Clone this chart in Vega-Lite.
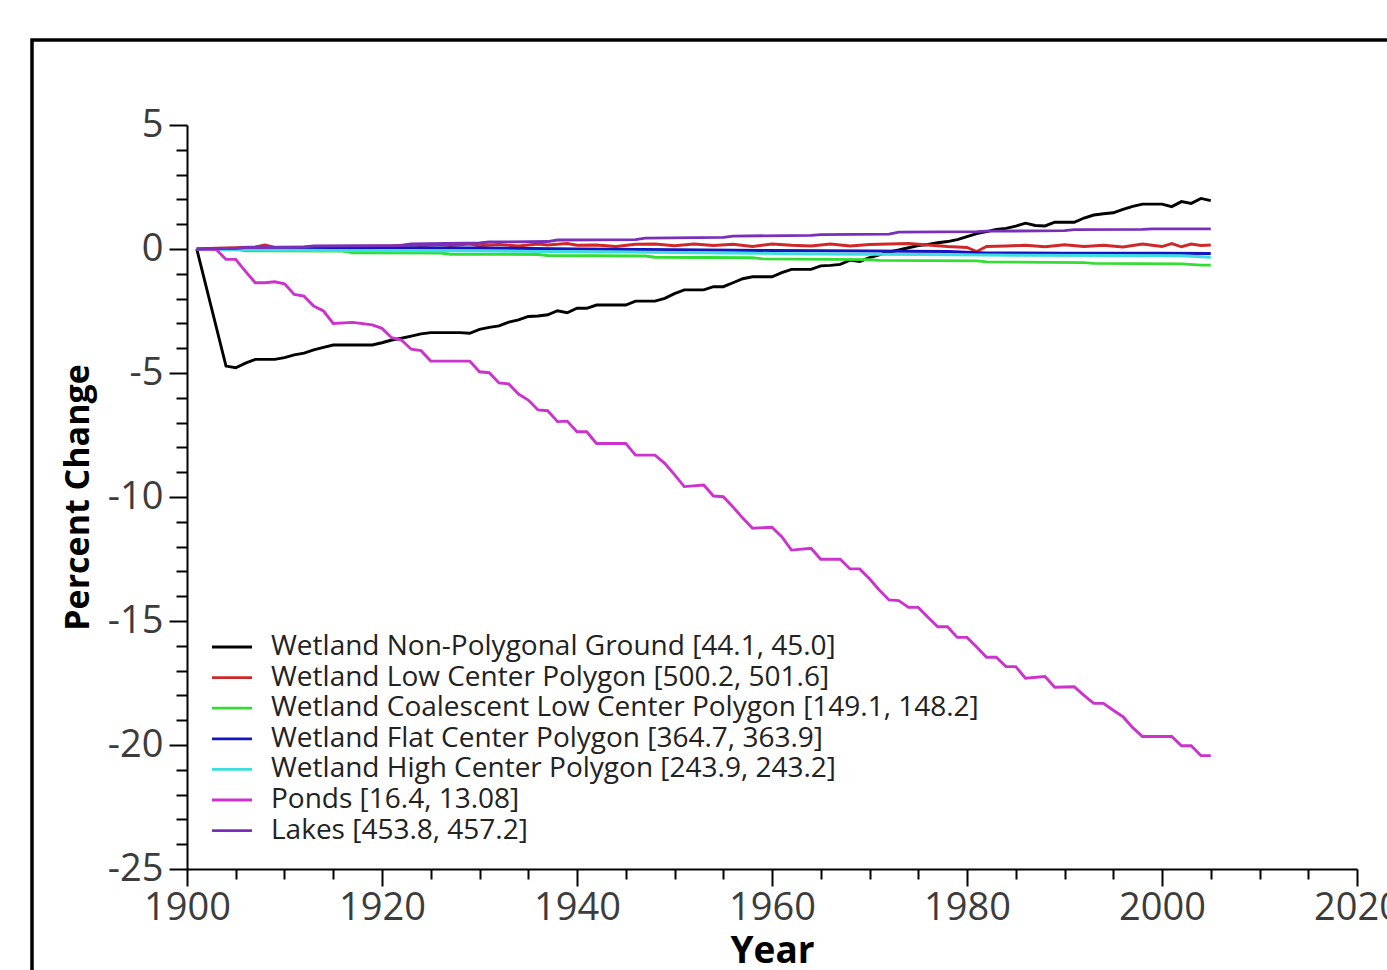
{
  "$schema": "https://vega.github.io/schema/vega-lite/v6.json",
  "autosize": {"type": "none"},
  "padding": {"left": 32, "top": 40, "right": -5, "bottom": -5},
  "width": 1360,
  "height": 935,
  "background": "white",
  "config": {"view": {"stroke": "black", "strokeWidth": 3.5, "fill": "white"}, "font": "Open Sans"},
  "encoding": {
    "x": {
      "field": "year", "type": "quantitative",
      "scale": {"domain": [1900, 2020], "nice": false, "zero": false, "range": [155, 1325]},
      "axis": {
        "offset": -106,
        "title": "Year", "titleFont": "Open Sans", "titleFontWeight": "bold", "titleFontSize": 37, "titleColor": "black", "titlePadding": 6,
        "values": [1900,1905,1910,1915,1920,1925,1930,1935,1940,1945,1950,1955,1960,1965,1970,1975,1980,1985,1990,1995,2000,2005,2010,2015,2020],
        "labelExpr": "datum.value % 20 === 0 ? '' + datum.value : ''",
        "labelFont": "Open Sans", "labelFontSize": 38, "labelColor": "#3c3c3c", "labelFlush": false, "labelOverlap": false, "labelPadding": 3,
        "tickSize": {"condition": {"test": "datum.value % 20 === 0", "value": 17}, "value": 10},
        "tickColor": "black", "tickWidth": 2, "domainColor": "black", "domainWidth": 2, "grid": false
      }
    },
    "y": {
      "field": "v", "type": "quantitative",
      "scale": {"domain": [-25, 5], "nice": false, "zero": false, "range": [829, 85]},
      "axis": {
        "offset": -155,
        "title": "Percent Change", "titleFont": "Open Sans", "titleFontWeight": "bold", "titleFontSize": 34, "titleColor": "black", "titlePadding": 12,
        "values": [-25,-24,-23,-22,-21,-20,-19,-18,-17,-16,-15,-14,-13,-12,-11,-10,-9,-8,-7,-6,-5,-4,-3,-2,-1,0,1,2,3,4,5],
        "labelExpr": "datum.value % 5 === 0 ? '' + datum.value : ''",
        "labelFont": "Open Sans", "labelFontSize": 38, "labelColor": "#3c3c3c", "labelFlush": false, "labelOverlap": false, "labelPadding": 6,
        "tickSize": {"condition": {"test": "datum.value % 5 === 0", "value": 18}, "value": 11},
        "tickColor": "black", "tickWidth": 2, "domainColor": "black", "domainWidth": 2, "grid": false
      }
    }
  },
  "layer": [
    {
      "data": {"values": [
        {"year":1901,"v":0},{"year":1904,"v":-4.72},{"year":1905,"v":-4.79},{"year":1906,"v":-4.6},{"year":1907,"v":-4.45},{"year":1909,"v":-4.45},{"year":1910,"v":-4.38},{"year":1911,"v":-4.27},{"year":1912,"v":-4.2},{"year":1913,"v":-4.07},{"year":1914,"v":-3.97},{"year":1915,"v":-3.87},{"year":1919,"v":-3.87},{"year":1920,"v":-3.78},{"year":1921,"v":-3.67},{"year":1922,"v":-3.6},{"year":1923,"v":-3.51},{"year":1924,"v":-3.42},{"year":1925,"v":-3.37},{"year":1928,"v":-3.37},{"year":1929,"v":-3.4},{"year":1930,"v":-3.24},{"year":1931,"v":-3.16},{"year":1932,"v":-3.1},{"year":1933,"v":-2.95},{"year":1934,"v":-2.86},{"year":1935,"v":-2.72},{"year":1936,"v":-2.7},{"year":1937,"v":-2.65},{"year":1938,"v":-2.49},{"year":1939,"v":-2.57},{"year":1940,"v":-2.39},{"year":1941,"v":-2.39},{"year":1942,"v":-2.26},{"year":1945,"v":-2.26},{"year":1946,"v":-2.1},{"year":1948,"v":-2.1},{"year":1949,"v":-1.99},{"year":1950,"v":-1.8},{"year":1951,"v":-1.65},{"year":1953,"v":-1.65},{"year":1954,"v":-1.52},{"year":1955,"v":-1.52},{"year":1956,"v":-1.36},{"year":1957,"v":-1.2},{"year":1958,"v":-1.12},{"year":1960,"v":-1.12},{"year":1961,"v":-0.95},{"year":1962,"v":-0.82},{"year":1964,"v":-0.82},{"year":1965,"v":-0.68},{"year":1966,"v":-0.66},{"year":1967,"v":-0.62},{"year":1968,"v":-0.45},{"year":1969,"v":-0.5},{"year":1970,"v":-0.35},{"year":1971,"v":-0.24},{"year":1972,"v":-0.12},{"year":1973,"v":-0.04},{"year":1974,"v":0.05},{"year":1975,"v":0.14},{"year":1976,"v":0.18},{"year":1977,"v":0.25},{"year":1978,"v":0.3},{"year":1979,"v":0.38},{"year":1980,"v":0.5},{"year":1981,"v":0.62},{"year":1982,"v":0.7},{"year":1983,"v":0.79},{"year":1984,"v":0.83},{"year":1985,"v":0.92},{"year":1986,"v":1.04},{"year":1987,"v":0.95},{"year":1988,"v":0.93},{"year":1989,"v":1.08},{"year":1991,"v":1.08},{"year":1992,"v":1.25},{"year":1993,"v":1.37},{"year":1994,"v":1.42},{"year":1995,"v":1.46},{"year":1996,"v":1.6},{"year":1997,"v":1.72},{"year":1998,"v":1.81},{"year":2000,"v":1.81},{"year":2001,"v":1.71},{"year":2002,"v":1.91},{"year":2003,"v":1.84},{"year":2004,"v":2.04},{"year":2005,"v":1.95}
      ]},
      "mark": {"type": "line", "strokeWidth": 2.9},
      "encoding": {
        "color": {
          "datum": "Wetland Non-Polygonal Ground [44.1, 45.0]", "type": "nominal",
          "scale": {
            "domain": ["Wetland Non-Polygonal Ground [44.1, 45.0]", "Wetland Low Center Polygon  [500.2, 501.6]", "Wetland Coalescent Low Center Polygon [149.1, 148.2]", "Wetland Flat Center Polygon [364.7, 363.9]", "Wetland High Center Polygon [243.9, 243.2]", "Ponds [16.4, 13.08]", "Lakes [453.8, 457.2]"],
            "range": ["#000000", "#d02828", "#33dd33", "#1414c0", "#3ddede", "#cc33cc", "#7a2fb8"]
          },
          "legend": {
            "orient": "none", "legendX": 186, "legendY": 593, "title": null,
            "symbolType": "M-2,0L2,0", "symbolSize": 400, "symbolStrokeWidth": 2.8,
            "labelFont": "Open Sans", "labelFontSize": 28, "labelColor": "#222222", "labelOffset": 25, "labelLimit": 0, "rowPadding": 2.6
          }
        }
      }
    },
    {
      "data": {"values": [
        {"year":1901,"v":0},{"year":1903,"v":0.03},{"year":1905,"v":0.05},{"year":1907,"v":0.08},{"year":1908,"v":0.16},{"year":1909,"v":0.06},{"year":1912,"v":0.07},{"year":1915,"v":0.08},{"year":1918,"v":0.1},{"year":1921,"v":0.12},{"year":1923,"v":0.17},{"year":1924,"v":0.14},{"year":1926,"v":0.18},{"year":1927,"v":0.14},{"year":1929,"v":0.2},{"year":1930,"v":0.13},{"year":1932,"v":0.18},{"year":1934,"v":0.12},{"year":1936,"v":0.2},{"year":1937,"v":0.16},{"year":1939,"v":0.22},{"year":1940,"v":0.15},{"year":1942,"v":0.16},{"year":1944,"v":0.1},{"year":1946,"v":0.19},{"year":1948,"v":0.2},{"year":1950,"v":0.13},{"year":1952,"v":0.2},{"year":1954,"v":0.14},{"year":1956,"v":0.19},{"year":1958,"v":0.1},{"year":1960,"v":0.2},{"year":1962,"v":0.15},{"year":1964,"v":0.12},{"year":1966,"v":0.2},{"year":1968,"v":0.12},{"year":1970,"v":0.18},{"year":1972,"v":0.2},{"year":1974,"v":0.22},{"year":1976,"v":0.16},{"year":1978,"v":0.1},{"year":1980,"v":0.06},{"year":1981,"v":-0.1},{"year":1982,"v":0.1},{"year":1984,"v":0.12},{"year":1986,"v":0.15},{"year":1988,"v":0.09},{"year":1990,"v":0.17},{"year":1992,"v":0.1},{"year":1994,"v":0.15},{"year":1996,"v":0.08},{"year":1998,"v":0.2},{"year":2000,"v":0.1},{"year":2001,"v":0.22},{"year":2002,"v":0.09},{"year":2003,"v":0.2},{"year":2004,"v":0.14},{"year":2005,"v":0.16}
      ]},
      "mark": {"type": "line", "strokeWidth": 2.9},
      "encoding": {"color": {"datum": "Wetland Low Center Polygon  [500.2, 501.6]", "type": "nominal"}}
    },
    {
      "data": {"values": [
        {"year":1901,"v":0},{"year":1905,"v":0},{"year":1906,"v":-0.07},{"year":1916,"v":-0.08},{"year":1917,"v":-0.15},{"year":1926,"v":-0.16},{"year":1927,"v":-0.21},{"year":1936,"v":-0.22},{"year":1937,"v":-0.26},{"year":1947,"v":-0.28},{"year":1948,"v":-0.33},{"year":1958,"v":-0.35},{"year":1959,"v":-0.4},{"year":1970,"v":-0.43},{"year":1971,"v":-0.46},{"year":1981,"v":-0.48},{"year":1982,"v":-0.52},{"year":1992,"v":-0.55},{"year":1993,"v":-0.58},{"year":2002,"v":-0.6},{"year":2004,"v":-0.65},{"year":2005,"v":-0.65}
      ]},
      "mark": {"type": "line", "strokeWidth": 2.9},
      "encoding": {"color": {"datum": "Wetland Coalescent Low Center Polygon [149.1, 148.2]", "type": "nominal"}}
    },
    {
      "data": {"values": [
        {"year":1901,"v":0},{"year":1910,"v":0.02},{"year":1920,"v":0.05},{"year":1930,"v":0.04},{"year":1940,"v":0.0},{"year":1950,"v":-0.03},{"year":1960,"v":-0.06},{"year":1970,"v":-0.08},{"year":1978,"v":-0.1},{"year":1982,"v":-0.16},{"year":1990,"v":-0.17},{"year":2000,"v":-0.17},{"year":2005,"v":-0.18}
      ]},
      "mark": {"type": "line", "strokeWidth": 2.9},
      "encoding": {"color": {"datum": "Wetland Flat Center Polygon [364.7, 363.9]", "type": "nominal"}}
    },
    {
      "data": {"values": [
        {"year":1901,"v":0},{"year":1905,"v":-0.03},{"year":1915,"v":-0.06},{"year":1930,"v":-0.08},{"year":1945,"v":-0.12},{"year":1955,"v":-0.16},{"year":1965,"v":-0.2},{"year":1975,"v":-0.22},{"year":1985,"v":-0.25},{"year":1995,"v":-0.26},{"year":2002,"v":-0.27},{"year":2005,"v":-0.33}
      ]},
      "mark": {"type": "line", "strokeWidth": 2.9},
      "encoding": {"color": {"datum": "Wetland High Center Polygon [243.9, 243.2]", "type": "nominal"}}
    },
    {
      "data": {"values": [
        {"year":1901,"v":0},{"year":1903,"v":-0.02},{"year":1904,"v":-0.42},{"year":1905,"v":-0.42},{"year":1906,"v":-0.9},{"year":1907,"v":-1.36},{"year":1908,"v":-1.36},{"year":1909,"v":-1.32},{"year":1910,"v":-1.4},{"year":1911,"v":-1.83},{"year":1912,"v":-1.9},{"year":1913,"v":-2.3},{"year":1914,"v":-2.5},{"year":1915,"v":-3.0},{"year":1917,"v":-2.96},{"year":1919,"v":-3.06},{"year":1920,"v":-3.2},{"year":1921,"v":-3.58},{"year":1922,"v":-3.67},{"year":1923,"v":-4.04},{"year":1924,"v":-4.1},{"year":1925,"v":-4.52},{"year":1929,"v":-4.52},{"year":1930,"v":-4.95},{"year":1931,"v":-4.99},{"year":1932,"v":-5.4},{"year":1933,"v":-5.44},{"year":1934,"v":-5.85},{"year":1935,"v":-6.09},{"year":1936,"v":-6.49},{"year":1937,"v":-6.52},{"year":1938,"v":-6.96},{"year":1939,"v":-6.94},{"year":1940,"v":-7.37},{"year":1941,"v":-7.37},{"year":1942,"v":-7.84},{"year":1945,"v":-7.84},{"year":1946,"v":-8.31},{"year":1948,"v":-8.31},{"year":1949,"v":-8.64},{"year":1950,"v":-9.1},{"year":1951,"v":-9.58},{"year":1953,"v":-9.52},{"year":1954,"v":-9.96},{"year":1955,"v":-9.99},{"year":1956,"v":-10.4},{"year":1957,"v":-10.85},{"year":1958,"v":-11.26},{"year":1960,"v":-11.22},{"year":1961,"v":-11.6},{"year":1962,"v":-12.14},{"year":1964,"v":-12.07},{"year":1965,"v":-12.51},{"year":1967,"v":-12.51},{"year":1968,"v":-12.9},{"year":1969,"v":-12.9},{"year":1970,"v":-13.3},{"year":1971,"v":-13.75},{"year":1972,"v":-14.15},{"year":1973,"v":-14.18},{"year":1974,"v":-14.45},{"year":1975,"v":-14.45},{"year":1976,"v":-14.85},{"year":1977,"v":-15.23},{"year":1978,"v":-15.23},{"year":1979,"v":-15.66},{"year":1980,"v":-15.66},{"year":1981,"v":-16.05},{"year":1982,"v":-16.46},{"year":1983,"v":-16.46},{"year":1984,"v":-16.84},{"year":1985,"v":-16.84},{"year":1986,"v":-17.31},{"year":1988,"v":-17.24},{"year":1989,"v":-17.67},{"year":1991,"v":-17.65},{"year":1992,"v":-18.0},{"year":1993,"v":-18.32},{"year":1994,"v":-18.32},{"year":1995,"v":-18.6},{"year":1996,"v":-18.86},{"year":1997,"v":-19.3},{"year":1998,"v":-19.66},{"year":2001,"v":-19.66},{"year":2002,"v":-20.03},{"year":2003,"v":-20.03},{"year":2004,"v":-20.43},{"year":2005,"v":-20.43}
      ]},
      "mark": {"type": "line", "strokeWidth": 2.9},
      "encoding": {"color": {"datum": "Ponds [16.4, 13.08]", "type": "nominal"}}
    },
    {
      "data": {"values": [
        {"year":1901,"v":0},{"year":1902,"v":0.02},{"year":1905,"v":0.02},{"year":1906,"v":0.06},{"year":1912,"v":0.08},{"year":1913,"v":0.12},{"year":1922,"v":0.14},{"year":1923,"v":0.2},{"year":1930,"v":0.24},{"year":1931,"v":0.28},{"year":1937,"v":0.3},{"year":1938,"v":0.36},{"year":1946,"v":0.38},{"year":1947,"v":0.44},{"year":1955,"v":0.47},{"year":1956,"v":0.52},{"year":1964,"v":0.55},{"year":1965,"v":0.58},{"year":1972,"v":0.6},{"year":1973,"v":0.68},{"year":1981,"v":0.7},{"year":1982,"v":0.72},{"year":1990,"v":0.74},{"year":1991,"v":0.78},{"year":1998,"v":0.79},{"year":1999,"v":0.81},{"year":2005,"v":0.81}
      ]},
      "mark": {"type": "line", "strokeWidth": 2.9},
      "encoding": {"color": {"datum": "Lakes [453.8, 457.2]", "type": "nominal"}}
    }
  ]
}
